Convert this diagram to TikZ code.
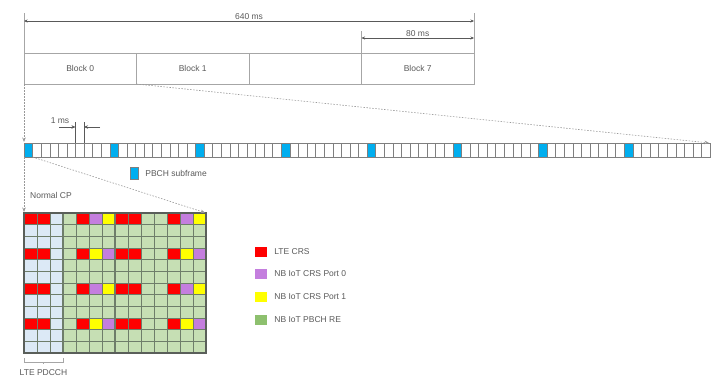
\documentclass[tikz,border=0pt]{standalone}
\usepackage{fontspec}
\setmainfont{Liberation Sans}
\usepackage{tikz}
\usetikzlibrary{arrows.meta,positioning}
\definecolor{NbText}{HTML}{595959}
\definecolor{NbLine}{HTML}{A6A6A6}
\definecolor{NbCell}{HTML}{7F7F7F}
\definecolor{NbPbch}{HTML}{00AEEF}
\definecolor{NbPdcch}{HTML}{DCE9F6}
\definecolor{NbRe}{HTML}{C6DFB4}
\definecolor{NbReKey}{HTML}{8DC06E}
\definecolor{NbCrs}{HTML}{FF0000}
\definecolor{NbPort0}{HTML}{C47EDE}
\definecolor{NbPort1}{HTML}{FFFF00}
\definecolor{NbGrid}{HTML}{6E7D6A}
\definecolor{NbFrame}{HTML}{5A5F5A}

\begin{document}
\begin{tikzpicture}[x=1pt, y=-1pt, font=\fontsize{8.5}{10}\selectfont,
  lbl/.style={text=NbText, inner sep=1pt},
  blk/.style={draw=NbLine, minimum width=112.5pt, minimum height=31pt,
              inner sep=0pt, outer sep=0pt, anchor=north west, text=NbText},
  sub/.style={draw=NbCell, minimum width=8.575pt, minimum height=14pt,
              inner sep=0pt, outer sep=0pt, anchor=north west},
  key/.style={minimum width=12pt, minimum height=10pt, inner sep=0pt},
  dim/.style={NbText, line width=0.5pt,
              {Stealth[length=3.5pt,width=3pt]}-{Stealth[length=3.5pt,width=3pt]}},
  onedim/.style={NbText, line width=0.6pt, -{Stealth[length=4pt,width=3.5pt]}},
  ext/.style={NbLine, line width=0.5pt},
  zoomln/.style={NbCell!80, line width=0.6pt, dash pattern=on 1.5pt off 1.5pt,
                 -{Stealth[length=4.5pt,width=3.5pt]}, shorten >=1pt},
  gl/.style={NbGrid, line width=0.5pt},
]
\useasboundingbox (0,0) rectangle (723,384);

%% ---- blocks and their dimensions ----
\foreach \i/\x/\t in {0/24/Block 0,1/136.5/Block 1,2/249/,7/361.5/Block 7}
  \node[blk] (b\i) at (\x,53) {\t};
\coordinate (e0) at (24,13);
\coordinate (e7) at (474,13);
\coordinate (e6) at (361.5,31);
\draw[ext] (b0.north west) -- (e0);
\draw[ext] (b7.north east) -- (e7);
\draw[ext] (b7.north west) -- (e6);
\coordinate (a0) at (24,21);
\coordinate (a1) at (474,21);
\coordinate (a2) at (361.5,38);
\coordinate (a3) at (474,38);
\draw[dim] (a0) -- node[lbl, above] (l640) {640 ms} (a1);
\draw[dim] (a2) -- node[lbl, above] (l80) {80 ms} (a3);

%% ---- 80 subframes ----
\foreach \i in {0,...,79} {
  \pgfmathtruncatemacro\m{mod(\i,10)}
  \ifnum\m=0 \def\subfill{NbPbch}\else\def\subfill{white}\fi
  \node[sub, fill=\subfill] (s\i) at ({24+8.575*\i},143) {};
}
\draw[zoomln] (b0.south west) -- (s0.north west);
\draw[zoomln] (b1.south west) -- (s79.north east);

% one subframe
\coordinate (t0) at (s6.north west |- 0,122);
\coordinate (t1) at (s6.north east |- 0,122);
\draw[ext, NbText] (s6.north west) -- (t0);
\draw[ext, NbText] (s6.north east) -- (t1);
\coordinate (p0) at (59,127);
\coordinate (p1) at (100,127);
\draw[onedim] (p0) -- (p0 -| t0);
\draw[onedim] (p1) -- (p1 -| t1);
\node[lbl] (l1ms) at (60,121) {1 ms};

\node[key, draw=NbCell, fill=NbPbch, minimum width=8pt, minimum height=12pt]
  (kpb) at (134,173) {};
\node[lbl, right=6pt of kpb] (tpb) {PBCH subframe};

%% ---- resource grid of one PBCH subframe ----
\fill[NbPdcch] (24,213) rectangle (63,353);
\fill[NbRe] (63,213) rectangle (206,353);
\foreach \r in {0,3,6,9} \foreach \k in {0,1,4,7,8,11}
  \fill[NbCrs] ({24+13*\k},{213+11.667*\r}) rectangle ++(13,11.667);
\foreach \r/\pa/\pb in {0/NbPort0/NbPort1,3/NbPort1/NbPort0,
                        6/NbPort0/NbPort1,9/NbPort1/NbPort0}
  \foreach \k in {5,12} {
    \fill[\pa] ({24+13*\k},{213+11.667*\r}) rectangle ++(13,11.667);
    \fill[\pb] ({37+13*\k},{213+11.667*\r}) rectangle ++(13,11.667);
  }
\foreach \k in {1,...,13} \draw[gl] ({24+13*\k},213) -- ++(0,140);
\foreach \r in {1,...,11} \draw[gl] (24,{213+11.667*\r}) -- ++(182,0);
\draw[gl, line width=1.4pt] (63,213) -- ++(0,140) (115,213) -- ++(0,140);
\node[draw=NbFrame, line width=1.6pt, minimum width=182pt, minimum height=140pt,
      inner sep=0pt, outer sep=0pt, anchor=north west] (grid) at (24,213) {};
\draw[zoomln] (s0.south west) -- (grid.north west);
\draw[zoomln] (s0.south east) -- (grid.north east);
\node[lbl, anchor=west] (ncp) at (29,195) {Normal CP};

% control region brace
\coordinate (bl) at (24,362);
\coordinate (br) at (63,362);
\draw[ext] (bl) ++(0,-4) -- (bl) -- (br) -- ++(0,-4);
\draw[ext] (bl) ++(19.5,0) -- ++(0,2);
\node[lbl] (lpd) at (43.5,373) {LTE PDCCH};

%% ---- legend ----
\foreach \n/\col/\txt/\y in {0/NbCrs/LTE CRS/252,1/NbPort0/NB IoT CRS Port 0/274,
                             2/NbPort1/NB IoT CRS Port 1/297,3/NbReKey/NB IoT PBCH RE/320} {
  \node[key, fill=\col] (k\n) at (261,\y) {};
  \node[lbl, right=6pt of k\n] (t\n) {\txt};
}
\end{tikzpicture}
\end{document}
